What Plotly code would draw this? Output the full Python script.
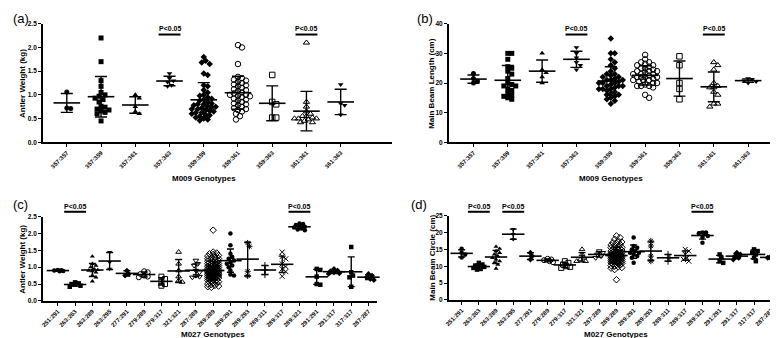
import numpy as np
import plotly.graph_objects as go

W, H = 778, 338

# ---------------- data ----------------
m009_genotypes = ["357:357", "357:359", "357:361", "357:363", "359:359",
                  "359:361", "359:363", "361:361", "361:363"]
m027_genotypes = ["251:291", "263:263", "263:289", "263:295", "277:291", "279:289",
                  "279:317", "321:321", "287:289", "289:289", "289:291", "289:293",
                  "289:311", "289:317", "289:321", "291:291", "291:317", "317:317", "287:287"]

antler_weight_m009 = [
    [1.06, 0.72, 0.71],
    [2.20, 1.70, 1.30, 1.18, 1.05, 1.00, 0.97, 0.93, 0.90, 0.85, 0.76, 0.74, 0.70, 0.68, 0.66, 0.63, 0.60, 0.45],
    [1.00, 0.93, 0.75, 0.65, 0.60],
    [1.45, 1.35, 1.30, 1.27, 1.20, 1.18],
    [1.80, 1.72, 1.68, 1.65, 1.45, 1.42, 1.20, 1.18, 1.10, 1.05, 1.00, 0.98, 0.95, 0.92, 0.90, 0.88,
     0.85, 0.82, 0.80, 0.80, 0.78, 0.76, 0.75, 0.74, 0.72, 0.70, 0.70, 0.68, 0.66, 0.65, 0.63, 0.62,
     0.60, 0.58, 0.57, 0.55, 0.52, 0.50, 0.48, 0.46],
    [2.05, 2.00, 1.65, 1.38, 1.35, 1.32, 1.30, 1.28, 1.25, 1.22, 1.20, 1.18, 1.15, 1.12, 1.10, 1.08,
     1.05, 1.03, 1.00, 1.00, 0.98, 0.97, 0.95, 0.92, 0.90, 0.88, 0.85, 0.82, 0.80, 0.78, 0.75, 0.72,
     0.70, 0.68, 0.65, 0.60, 0.55, 0.48],
    [1.42, 0.85, 0.80, 0.52, 0.52],
    [2.10, 0.85, 0.75, 0.65, 0.60, 0.55, 0.55, 0.52, 0.50, 0.50, 0.50, 0.48, 0.45, 0.42, 0.42],
    [1.22, 0.82, 0.78, 0.58],
]

main_beam_length_m009 = [
    [23.2, 21.5, 20.0, 20.6],
    [30, 30, 28, 25.5, 25, 24, 23, 21.5, 20, 19.5, 19, 19, 18, 17.5, 16.5, 16, 15.5, 15, 14.5],
    [30, 24.5, 23.5, 22, 20],
    [32, 30, 28.5, 27, 26, 24.5],
    [35, 30, 30, 28, 27, 26, 25, 24, 23, 23, 22.5, 22, 22, 21.5, 21, 21, 21, 20.5, 20, 20, 20, 19.5,
     19, 19, 19, 18.5, 18, 18, 18, 17.5, 17, 16.5, 16, 16, 15.5, 15, 14.5, 14, 13],
    [29.5, 28, 27, 27, 26.5, 26, 26, 25.5, 25, 25, 24.5, 24, 24, 24, 23.5, 23, 23, 23, 22.5, 22, 22,
     22, 22, 21.5, 21, 21, 21, 20.5, 20, 20, 19.5, 19, 19, 19, 18.5, 16, 15],
    [29, 26, 20, 18, 14.5],
    [27, 26, 24.5, 20, 19, 18.5, 18.5, 17, 16, 13, 13, 12],
    [21.5, 21.2, 20.8, 20.5, 20.0],
]

antler_weight_m027 = [
    [0.92, 0.91, 0.90, 0.89, 0.88],
    [0.55, 0.52, 0.50, 0.48, 0.45, 0.42],
    [1.32, 1.10, 1.05, 1.00, 0.95, 0.92, 0.90, 0.88, 0.85, 0.75, 0.70, 0.58],
    [1.45, 1.15, 0.95],
    [0.90, 0.80, 0.75],
    [0.88, 0.85, 0.80, 0.75, 0.72, 0.70],
    [0.72, 0.65, 0.58, 0.50, 0.45],
    [1.45, 1.10, 0.90, 0.72, 0.60, 0.56],
    [1.20, 1.10, 1.05, 0.90, 0.85, 0.75, 0.72, 0.70],
    [2.10, 1.45, 1.42, 1.40, 1.38, 1.35, 1.33, 1.30, 1.28, 1.26, 1.25, 1.22, 1.20, 1.19, 1.18, 1.16,
     1.15, 1.14, 1.12, 1.11, 1.10, 1.09, 1.08, 1.07, 1.06, 1.05, 1.04, 1.03, 1.02, 1.01, 1.00, 1.00,
     0.99, 0.98, 0.97, 0.96, 0.95, 0.95, 0.94, 0.93, 0.92, 0.92, 0.91, 0.90, 0.90, 0.89, 0.88, 0.88,
     0.87, 0.86, 0.86, 0.85, 0.85, 0.84, 0.83, 0.83, 0.82, 0.81, 0.81, 0.80, 0.80, 0.79, 0.78, 0.78,
     0.77, 0.76, 0.76, 0.75, 0.74, 0.74, 0.73, 0.72, 0.71, 0.70, 0.70, 0.69, 0.68, 0.67, 0.66, 0.65,
     0.64, 0.63, 0.62, 0.61, 0.60, 0.58, 0.57, 0.55, 0.54, 0.52, 0.50, 0.48, 0.46, 0.44, 0.42, 0.40],
    [2.00, 1.65, 1.40, 1.30, 1.25, 1.20, 1.15, 1.10, 1.05, 1.00, 0.90, 0.78, 0.75],
    [1.72, 1.62, 0.88, 0.74],
    [1.05, 0.92, 0.78],
    [1.45, 1.32, 1.25, 1.10, 1.02, 0.95, 0.87, 0.73],
    [2.30, 2.28, 2.25, 2.22, 2.20, 2.18, 2.15, 2.12, 2.10],
    [0.95, 0.92, 0.72, 0.50, 0.48],
    [0.95, 0.90, 0.88, 0.85, 0.82, 0.80],
    [1.60, 0.85, 0.75, 0.70, 0.42],
    [0.80, 0.75, 0.70, 0.65, 0.62],
]

main_beam_circle_m027 = [
    [15.2, 14.0, 13.5, 12.6],
    [11.0, 10.5, 10.2, 10.0, 9.8, 9.5, 9.2, 9.0],
    [15.8, 15.2, 14.5, 14.0, 13.5, 13.0, 12.5, 12.0, 11.5, 11.0, 10.5, 9.3],
    [21.0, 19.5, 18.0],
    [14.0, 13.0, 12.0],
    [12.2, 12.0, 11.8, 11.5, 11.2],
    [11.5, 11.0, 10.5, 10.0, 9.8, 9.5],
    [15.0, 13.5, 12.5, 12.0, 11.5, 11.5],
    [14.5, 14.0, 13.5, 13.0, 12.5],
    [19.0, 18.5, 18.0, 17.5, 17.2, 17.0, 16.8, 16.5, 16.3, 16.0, 15.8, 15.6, 15.5, 15.3, 15.2, 15.0,
     14.9, 14.8, 14.6, 14.5, 14.4, 14.3, 14.2, 14.1, 14.0, 14.0, 13.9, 13.8, 13.7, 13.6, 13.5, 13.5,
     13.4, 13.3, 13.2, 13.2, 13.1, 13.0, 13.0, 12.9, 12.8, 12.8, 12.7, 12.6, 12.5, 12.5, 12.4, 12.3,
     12.2, 12.2, 12.1, 12.0, 12.0, 11.9, 11.8, 11.7, 11.6, 11.5, 11.5, 11.4, 11.3, 11.2, 11.1, 11.0,
     10.9, 10.8, 10.7, 10.5, 10.4, 10.2, 10.0, 9.8, 9.6, 9.4, 9.0, 6.0],
    [18.5, 16.0, 15.5, 15.0, 14.5, 14.0, 14.0, 13.5, 13.0, 12.5, 11.0],
    [17.5, 16.0, 13.0, 11.5],
    [13.5, 12.5, 11.5],
    [15.0, 14.5, 13.5, 12.5, 12.0, 11.5],
    [20.0, 20.0, 19.8, 19.5, 19.0, 18.5, 17.0],
    [13.5, 12.5, 11.5, 11.0],
    [14.0, 13.5, 13.0, 12.5, 12.0],
    [15.0, 14.5, 14.0, 13.5, 12.5, 11.5],
    [13.0, 12.8, 12.5, 12.2],
]

significant_m009 = ["357:363", "361:361"]
significant_m027_weight = ["263:263", "289:321"]
significant_m027_circle = ["263:263", "263:295", "289:321"]

# ---------------- style ----------------
FONT = "Liberation Sans, Arial, sans-serif"
m009_symbols = ["circle", "square", "triangle-up", "triangle-down", "diamond", "circle-open",
                "square-open", "triangle-up-open", "triangle-down"]
m027_symbols = ["circle", "square", "triangle-up", "triangle-down", "diamond", "circle-open",
                "square-open", "triangle-up-open", "triangle-down-open", "diamond-open", "circle",
                "asterisk-open", "cross-thin-open", "x-thin-open", "circle", "square", "diamond",
                "square", "diamond"]

# pixel geometry of each panel
panels = [
    dict(name="a", x0=31, x1=382, yt=12, yb=133, xr=(-0.70, 9.50), ymax=2.5, dtick=0.5, fmt=".1f",
         cats=m009_genotypes, vals=antler_weight_m009, syms=m009_symbols, sig=significant_m009,
         ytitle="Antler Weight (kg)", xtitle="M009 Genotypes", msize=5, mw=19, cap=6,
         label_xy=(0, 7), ytitle_x=11, xtitle_y=170, sig_text_y=17, sig_line_y=23, spread=0.40),
    dict(name="b", x0=439, x1=771, yt=12, yb=133, xr=(-0.72, 8.90), ymax=40, dtick=10, fmt="d",
         cats=m009_genotypes, vals=main_beam_length_m009, syms=m009_symbols, sig=significant_m009,
         ytitle="Main Beam Length (cm)", xtitle="M009 Genotypes", msize=5, mw=19, cap=6,
         label_xy=(406, 7), ytitle_x=422, xtitle_y=170, sig_text_y=17, sig_line_y=23, spread=0.40),
    dict(name="c", x0=31, x1=367, yt=209, yb=295, xr=(-0.87, 18.5), ymax=2.5, dtick=0.5, fmt=".1f",
         cats=m027_genotypes, vals=antler_weight_m027, syms=m027_symbols, sig=significant_m027_weight,
         ytitle="Antler Weight (kg)", xtitle="M027 Genotypes", msize=4.5, mw=16, cap=3.5,
         label_xy=(0, 197), ytitle_x=11, xtitle_y=329, sig_text_y=199, sig_line_y=204, spread=0.32),
    dict(name="d", x0=439, x1=777, yt=208, yb=294, xr=(-0.75, 18.8), ymax=25, dtick=5, fmt="d",
         cats=m027_genotypes, vals=main_beam_circle_m027, syms=m027_symbols, sig=significant_m027_circle,
         ytitle="Main Beam Circle (cm)", xtitle="M027 Genotypes", msize=4.5, mw=16, cap=3.5,
         label_xy=(400, 197), ytitle_x=423, xtitle_y=329, sig_text_y=199, sig_line_y=204, spread=0.32),
]


def swarm_offsets(vals, ppx, ppy, d, max_px):
    vals = np.asarray(vals, float)
    order = np.argsort(-vals, kind="stable")
    steps = [0.0]
    k = 1
    while k * d / 2 <= max_px:
        steps += [k * d / 2, -k * d / 2]
        k += 1
    px, py = [], []
    offs = np.zeros(len(vals))
    for idx in order:
        y = vals[idx] * ppy
        best, best_score = 0.0, -1.0
        for s in steps:
            if px:
                dist = np.min(np.hypot(np.array(px) - s, np.array(py) - y))
            else:
                dist = np.inf
            if dist >= d:
                best = s
                break
            if dist > best_score:
                best_score, best = dist, s
        px.append(best)
        py.append(y)
        offs[idx] = best / ppx
    return offs


fig = go.Figure()
annotations = []
shapes = []
layout_axes = {}

for p_i, p in enumerate(panels):
    n = p_i + 1
    xa = "x" if n == 1 else f"x{n}"
    ya = "y" if n == 1 else f"y{n}"
    dom_x = [p["x0"] / W, p["x1"] / W]
    dom_y = [1 - p["yb"] / H, 1 - p["yt"] / H]
    ppx = (p["x1"] - p["x0"]) / (p["xr"][1] - p["xr"][0])
    ppy = (p["yb"] - p["yt"]) / p["ymax"]

    for i, (cat, vals) in enumerate(zip(p["cats"], p["vals"])):
        v = np.asarray(vals, float)
        offs = swarm_offsets(v, ppx, ppy, d=p["msize"] * 0.8, max_px=ppx * p["spread"])
        sym = p["syms"][i]
        is_open = sym.endswith("-open")
        fig.add_trace(go.Scatter(
            x=i + offs, y=v, mode="markers", xaxis=xa, yaxis=ya, showlegend=False,
            cliponaxis=False, hoverinfo="y",
            marker=dict(symbol=sym, size=p["msize"] + (0.5 if is_open else 0),
                        color="black", line=dict(color="black", width=1 if is_open else 0)),
        ))
        mean = v.mean()
        sd = v.std(ddof=1) if len(v) > 1 else 0.0
        fig.add_trace(go.Scatter(
            x=[i], y=[mean], mode="markers", xaxis=xa, yaxis=ya, showlegend=False,
            cliponaxis=False, hoverinfo="y",
            marker=dict(symbol="line-ew", size=p["mw"], color="black",
                        line=dict(color="black", width=1.6)),
            error_y=dict(type="data", array=[sd], visible=True, color="black",
                         thickness=1.4, width=p["cap"]),
        ))

    axkey_x = "xaxis" if n == 1 else f"xaxis{n}"
    axkey_y = "yaxis" if n == 1 else f"yaxis{n}"
    layout_axes[axkey_x] = dict(
        domain=dom_x, anchor=ya, range=list(p["xr"]), tickmode="array",
        tickvals=list(range(len(p["cats"]))), ticktext=p["cats"], tickangle=-45,
        showline=True, linecolor="black", linewidth=1.5, ticks="outside", ticklen=3,
        tickwidth=1, tickcolor="black", showgrid=False, zeroline=False,
        tickfont=dict(family=FONT, size=6, color="black", weight="bold"),
    )
    layout_axes[axkey_y] = dict(
        domain=dom_y, anchor=xa, range=[0, p["ymax"]], dtick=p["dtick"], tick0=0,
        tickformat=p["fmt"], showline=True, linecolor="black", linewidth=1.5,
        ticks="outside", ticklen=3, tickwidth=1, tickcolor="black", showgrid=False,
        zeroline=False, tickfont=dict(family=FONT, size=6.5, color="black", weight="bold"),
    )

    # panel label
    annotations.append(dict(text=f"({p['name']})", x=p["label_xy"][0] / W, y=1 - p["label_xy"][1] / H,
                            xref="paper", yref="paper", xanchor="left", yanchor="middle",
                            showarrow=False, borderpad=0,
                            font=dict(family=FONT, size=13, color="black")))
    # y title
    annotations.append(dict(text=p["ytitle"], x=p["ytitle_x"] / W, y=(dom_y[0] + dom_y[1]) / 2,
                            xref="paper", yref="paper", xanchor="center", yanchor="middle",
                            textangle=-90, showarrow=False, borderpad=0,
                            font=dict(family=FONT, size=8, color="black", weight="bold")))
    # x title (centred on category span)
    ncat = len(p["cats"])
    cx = p["x0"] + ((ncat - 1) / 2 - p["xr"][0]) * ppx
    annotations.append(dict(text=p["xtitle"], x=cx / W, y=1 - p["xtitle_y"] / H,
                            xref="paper", yref="paper", xanchor="center", yanchor="middle",
                            showarrow=False, borderpad=0,
                            font=dict(family=FONT, size=8, color="black", weight="bold")))
    # significance marks
    for cat in p["sig"]:
        ci = p["cats"].index(cat)
        gx = p["x0"] + (ci - p["xr"][0]) * ppx
        annotations.append(dict(text="P<0.05", x=gx / W, y=1 - p["sig_text_y"] / H,
                                xref="paper", yref="paper", xanchor="center", yanchor="middle",
                                showarrow=False, borderpad=0,
                                font=dict(family=FONT, size=7, color="black", weight="bold")))
        shapes.append(dict(type="line", xref="paper", yref="paper",
                           x0=(gx - 11) / W, x1=(gx + 11) / W,
                           y0=1 - p["sig_line_y"] / H, y1=1 - p["sig_line_y"] / H,
                           line=dict(color="black", width=2)))

fig.update_layout(
    width=W, height=H, margin=dict(l=0, r=0, t=0, b=0),
    paper_bgcolor="white", plot_bgcolor="white",
    annotations=annotations, shapes=shapes, showlegend=False,
    font=dict(family=FONT, color="black"),
    **layout_axes,
)

fig.write_html("out.html")
